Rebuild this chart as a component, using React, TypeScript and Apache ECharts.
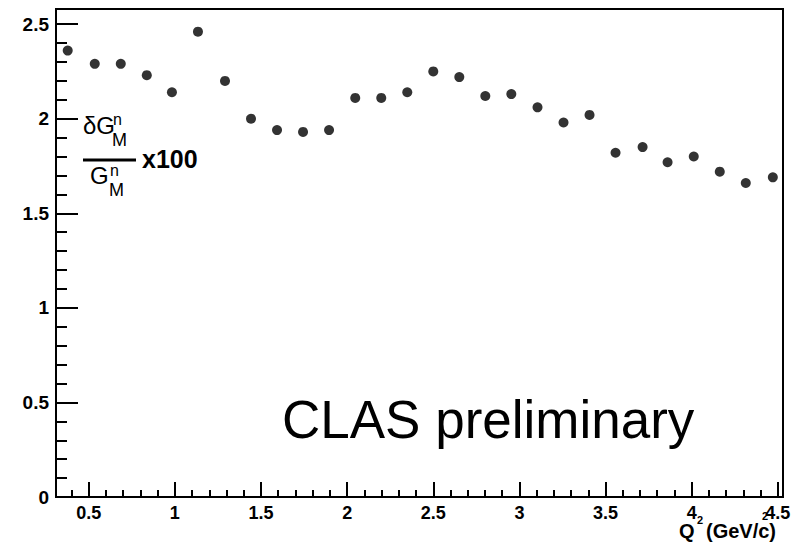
import React, { useEffect, useRef } from 'react';
import * as echarts from 'echarts';

// Q^2 (GeV/c)^2 and relative uncertainty dG/G x100
const q2 = [0.378, 0.535, 0.686, 0.837, 0.983, 1.134, 1.291, 1.442, 1.593, 1.744, 1.895, 2.047, 2.198, 2.349,
  2.5, 2.651, 2.802, 2.953, 3.105, 3.256, 3.407, 3.558, 3.715, 3.86, 4.012, 4.163, 4.314, 4.471];
const relErr = [2.36, 2.29, 2.29, 2.23, 2.14, 2.46, 2.2, 2.0, 1.94, 1.93, 1.94, 2.11, 2.11, 2.14,
  2.25, 2.22, 2.12, 2.13, 2.06, 1.98, 2.02, 1.82, 1.85, 1.77, 1.8, 1.72, 1.66, 1.69];

const xMajor = [0.5, 1, 1.5, 2, 2.5, 3, 3.5, 4, 4.5];
const xMinor = [0.4, 0.6, 0.7, 0.8, 0.9, 1.1, 1.2, 1.3, 1.4, 1.6, 1.7, 1.8, 1.9, 2.1, 2.2, 2.3, 2.4,
  2.6, 2.7, 2.8, 2.9, 3.1, 3.2, 3.3, 3.4, 3.6, 3.7, 3.8, 3.9, 4.1, 4.2, 4.3, 4.4];
const yMajor = [0, 0.5, 1, 1.5, 2, 2.5];
const yMinor = [0.1, 0.2, 0.3, 0.4, 0.6, 0.7, 0.8, 0.9, 1.1, 1.2, 1.3, 1.4, 1.6, 1.7, 1.8, 1.9,
  2.1, 2.2, 2.3, 2.4];

const FONT = '"Liberation Sans", Arial, sans-serif';

export default function App() {
  const ref = useRef<HTMLDivElement>(null);

  useEffect(() => {
    if (!ref.current) return;
    const chart = echarts.init(ref.current, null, { renderer: 'svg' });
    const lbl = { color: '#000', fontFamily: FONT, fontWeight: 'bold' as const, fontSize: 18 };
    const xBase = { type: 'value' as const, min: 0.31, max: 4.53, position: 'bottom' as const, splitLine: { show: false },
      axisLine: { lineStyle: { color: '#000', width: 2 } } };
    const yBase = { type: 'value' as const, min: 0, max: 2.58, position: 'left' as const, splitLine: { show: false },
      axisLine: { lineStyle: { color: '#000', width: 2 } } };
    const t = (text: string, x: number, y: number, fontSize: number, bold = false) => ({
      type: 'text', x, y,
      style: { text, fontFamily: FONT, fontSize, fontWeight: bold ? 'bold' : 'normal', fill: '#000', verticalAlign: 'top' },
    });

    chart.setOption({
      animation: false,
      backgroundColor: '#fff',
      grid: { left: 56, right: 21, top: 9, bottom: 56, show: true, borderColor: '#000', borderWidth: 2 },
      xAxis: [
        { ...xBase, axisTick: { inside: true, length: 15, customValues: xMajor, lineStyle: { color: '#000', width: 2 } },
          axisLabel: { ...lbl, margin: 7, customValues: xMajor } },
        { ...xBase, axisTick: { inside: true, length: 7, customValues: xMinor, lineStyle: { color: '#000', width: 2 } },
          axisLabel: { show: false } },
      ],
      yAxis: [
        { ...yBase, axisTick: { inside: true, length: 22, customValues: yMajor, lineStyle: { color: '#000', width: 2 } },
          axisLabel: { ...lbl, fontSize: 19, margin: 7, customValues: yMajor } },
        { ...yBase, axisTick: { inside: true, length: 11, customValues: yMinor, lineStyle: { color: '#000', width: 2 } },
          axisLabel: { show: false } },
      ],
      series: [{
        type: 'scatter', symbol: 'circle', symbolSize: 10, itemStyle: { color: '#000' },
        data: q2.map((x, i) => [x, relErr[i]]),
      }],
      graphic: [
        t('CLAS preliminary', 282, 393, 53),
        t('Q', 679, 521, 20, true),
        t('2', 697, 514, 11, true),
        t('(GeV/c)', 706, 521, 20, true),
        t('2', 762, 510, 11, true),
        // y axis title: fraction
        t('δG', 83, 113, 24),
        t('n', 113, 111, 16),
        t('M', 112, 131, 18),
        { type: 'line', shape: { x1: 83, y1: 160, x2: 136, y2: 160 }, style: { stroke: '#000', lineWidth: 3 } },
        t('G', 90, 163, 24),
        t('n', 110, 162, 16),
        t('M', 109, 181, 18),
        t('x100', 142, 146, 25, true),
      ],
    });
    return () => chart.dispose();
  }, []);

  return <div ref={ref} style={{ width: 804, height: 553, position: 'absolute', left: 0, top: 0 }} />;
}
